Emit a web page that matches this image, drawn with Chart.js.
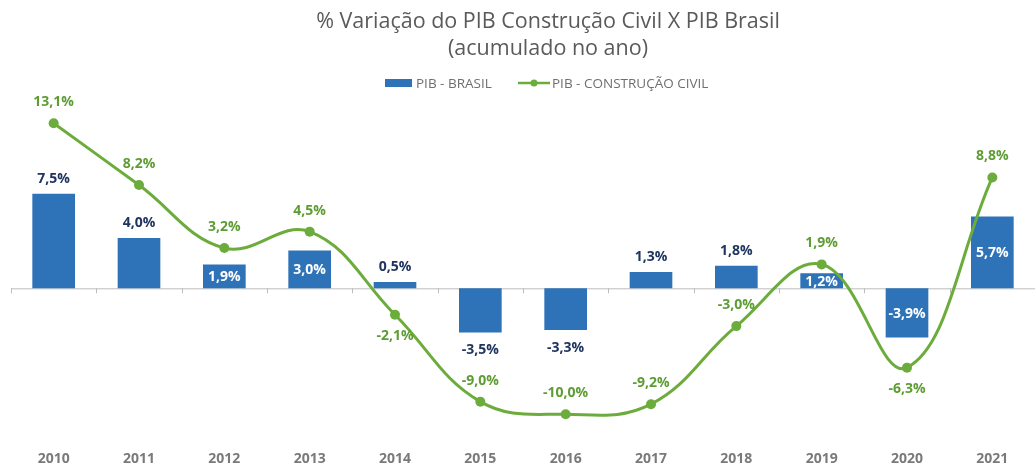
<!DOCTYPE html>
<html>
<head>
<meta charset="utf-8">
<script src="https://cdn.jsdelivr.net/npm/chart.js@4.4.1/dist/chart.umd.min.js"></script>
<style>
  html, body { margin: 0; padding: 0; background: #fff; overflow: hidden; }
</style>
</head>
<body>
<canvas id="graficoPib" width="1040" height="469"></canvas>
<script>
// dados
const anos = ["2010", "2011", "2012", "2013", "2014", "2015", "2016", "2017", "2018", "2019", "2020", "2021"];
const pibBrasil = [7.5, 4.0, 1.9, 3.0, 0.5, -3.5, -3.3, 1.3, 1.8, 1.2, -3.9, 5.7];
const pibConstrucao = [13.1, 8.2, 3.2, 4.5, -2.1, -9.0, -10.0, -9.2, -3.0, 1.9, -6.3, 8.8];
const titulo = ["% Variação do PIB Construção Civil X PIB Brasil", "(acumulado no ano)"];
const nomesSeries = ["PIB - BRASIL", "PIB - CONSTRUÇÃO CIVIL"];

// onde vai cada rótulo
const posBarra = ["acima", "acima", "dentro", "dentro", "acima", "abaixo", "abaixo", "acima", "acima", "dentro", "dentro", "dentro"];
const posLinha = ["acima", "acima", "acima", "acima", "abaixo", "acima", "acima", "acima", "acima", "acima", "abaixo", "acima"];

const AZUL = "#2e72b8";
const VERDE = "#6cac3c";
const VERDE_TXT = "#5e9c34";
const AZUL_TXT = "#1f3560";
const CINZA = "#6f6f6f";
const FONTE = "'Open Sans', sans-serif";

const fmt = (v) => v.toFixed(1).replace(".", ",") + "%";

const extras = {
  id: "extras",
  beforeDatasetsDraw(chart) {
    const ctx = chart.ctx;
    const area = chart.chartArea;
    const y0 = chart.scales.y.getPixelForValue(0);
    ctx.save();
    ctx.strokeStyle = "#bdbdbd";
    ctx.lineWidth = 1;
    ctx.beginPath();
    ctx.moveTo(area.left, y0 + 0.5);
    ctx.lineTo(area.right, y0 + 0.5);
    const passo = (area.right - area.left) / anos.length;
    for (let i = 0; i <= anos.length; i++) {
      const xi = Math.round(area.left + i * passo) + 0.5;
      ctx.moveTo(xi, y0);
      ctx.lineTo(xi, y0 + 5);
    }
    ctx.stroke();
    ctx.restore();
  },
  afterDatasetsDraw(chart) {
    const ctx = chart.ctx;
    const barras = chart.getDatasetMeta(0).data;
    const pontos = chart.getDatasetMeta(1).data;
    ctx.save();
    ctx.textAlign = "center";
    ctx.textBaseline = "middle";
    ctx.font = "bold 14px " + FONTE;
    barras.forEach((b, i) => {
      const v = pibBrasil[i];
      let yy;
      if (posBarra[i] === "dentro") {
        ctx.fillStyle = "#ffffff";
        yy = (b.y + b.base) / 2 + 1;
      } else if (posBarra[i] === "acima") {
        ctx.fillStyle = AZUL_TXT;
        yy = b.y - 15;
      } else {
        ctx.fillStyle = AZUL_TXT;
        yy = b.y + 18;
      }
      ctx.fillText(fmt(v), b.x, yy);
    });
    ctx.fillStyle = VERDE_TXT;
    pontos.forEach((p, i) => {
      const yy = posLinha[i] === "acima" ? p.y - 21 : p.y + 21;
      ctx.fillText(fmt(pibConstrucao[i]), p.x, yy);
    });
    ctx.restore();
  },
  afterDraw(chart) {
    const ctx = chart.ctx;
    const cx = 548;
    ctx.save();
    ctx.textAlign = "center";
    ctx.textBaseline = "middle";
    ctx.fillStyle = "#5a5a5a";
    ctx.font = "21.5px " + FONTE;
    ctx.fillText(titulo[0], cx, 22);
    ctx.fillText(titulo[1], cx, 49);

    // legenda
    ctx.font = "13.5px " + FONTE;
    ctx.textAlign = "left";
    let x = 385;
    const yl = 83;
    ctx.fillStyle = AZUL;
    ctx.fillRect(x, yl - 4, 27, 8);
    ctx.fillStyle = CINZA;
    ctx.fillText(nomesSeries[0], x + 31, yl + 1);
    x = 518;
    ctx.strokeStyle = VERDE;
    ctx.lineWidth = 2.5;
    ctx.beginPath();
    ctx.moveTo(x, yl);
    ctx.lineTo(x + 32, yl);
    ctx.stroke();
    ctx.fillStyle = VERDE;
    ctx.beginPath();
    ctx.arc(x + 16, yl, 3.5, 0, Math.PI * 2);
    ctx.fill();
    ctx.fillStyle = CINZA;
    ctx.fillText(nomesSeries[1], x + 34, yl + 1);
    ctx.restore();
  }
};

const ctx = document.getElementById("graficoPib").getContext("2d");
new Chart(ctx, {
  type: "bar",
  data: {
    labels: anos,
    datasets: [
      {
        type: "bar",
        label: nomesSeries[0],
        data: pibBrasil,
        backgroundColor: AZUL,
        categoryPercentage: 1,
        barPercentage: 0.5,
        order: 2
      },
      {
        type: "line",
        label: nomesSeries[1],
        data: pibConstrucao,
        borderColor: VERDE,
        backgroundColor: VERDE,
        borderWidth: 3,
        pointRadius: 5,
        pointHoverRadius: 5,
        pointBackgroundColor: VERDE,
        pointBorderWidth: 0,
        tension: 0.4,
        order: 1
      }
    ]
  },
  options: {
    responsive: false,
    animation: false,
    layout: { padding: { top: 112, left: 11, right: 1, bottom: 2 } },
    plugins: {
      legend: { display: false },
      title: { display: false },
      tooltip: { enabled: false }
    },
    scales: {
      x: {
        grid: { display: false, drawTicks: false },
        border: { display: false },
        ticks: {
          color: "#7a7a7a",
          padding: 4,
          font: { family: "'Open Sans', sans-serif", size: 14, weight: "bold" }
        },
        afterFit: (s) => { s.height = 20; }
      },
      y: {
        min: -12.6,
        max: 14,
        grid: { display: false },
        border: { display: false },
        ticks: { display: false },
        afterFit: (s) => { s.width = 0; }
      }
    }
  },
  plugins: [extras]
});
</script>
</body>
</html>
